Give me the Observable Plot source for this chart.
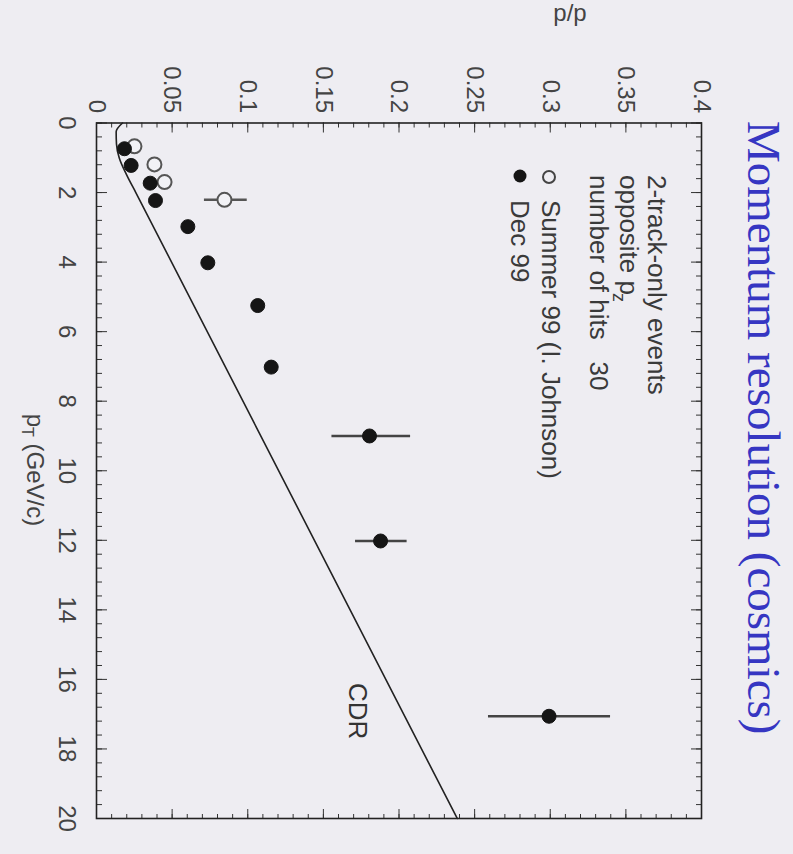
<!DOCTYPE html>
<html><head><meta charset="utf-8">
<script src="https://cdn.jsdelivr.net/npm/d3@7"></script>
<script src="https://cdn.jsdelivr.net/npm/@observablehq/plot@0.6"></script>
<style>
html,body{margin:0;padding:0;background:#eeedf2;overflow:hidden;width:793px;height:854px;}
#rot{position:absolute;left:0;top:0;width:854px;height:793px;transform-origin:0 0;transform:translate(793px,0) rotate(90deg);}
#rot svg{display:block;overflow:visible;}
</style></head><body><div id="rot"></div>
<script>
// ---- data ----
const dec99Pt    = [0.74, 1.22, 1.73, 2.23, 2.98, 4.02, 5.25, 7.02, 9.00, 12.02, 17.06];
const dec99Sigma = [0.0185, 0.0229, 0.0355, 0.0390, 0.0604, 0.0736, 0.1066, 0.1155, 0.1805, 0.1878, 0.2992];
const dec99Lo    = [null, null, null, null, null, null, null, null, 0.155, 0.1706, 0.2585];
const dec99Hi    = [null, null, null, null, null, null, null, null, 0.207, 0.2047, 0.3392];

const summerPt    = [0.67, 1.19, 1.70, 2.21];
const summerSigma = [0.0251, 0.0383, 0.0450, 0.0846];
const summerLo    = [null, null, null, 0.0707];
const summerHi    = [null, null, null, 0.0990];

const cdrPt    = [0, 0.25, 0.6, 1.0, 1.5, 2.0, 20];
const cdrSigma = [0.0172, 0.0130, 0.0132, 0.0150, 0.0200, 0.0260, 0.2385];

const xTicks = [0, 2, 4, 6, 8, 10, 12, 14, 16, 18, 20];
const xTickLabels = ["0","2","4","6","8","10","12","14","16","18","20"];
const yTicks = [0, 0.05, 0.1, 0.15, 0.2, 0.25, 0.3, 0.35, 0.4];
const yTickLabels = ["0","0.05","0.1","0.15","0.2","0.25","0.3","0.35","0.4"];

const titleText = "Momentum resolution (cosmics)";
const yTitle = "p/p";
const legendHeader = ["2-track-only events", "opposite p", "number of hits\u00a0\u00a0 30"];
const legendSeries = ["Summer 99 (I. Johnson)", "Dec 99"];
const cdrLabel = "CDR";

// ---- build ----
const dec99 = dec99Pt.map((p, i) => ({pt: p, s: dec99Sigma[i], lo: dec99Lo[i], hi: dec99Hi[i]}));
const summer = summerPt.map((p, i) => ({pt: p, s: summerSigma[i], lo: summerLo[i], hi: summerHi[i]}));
const cdr = cdrPt.map((p, i) => ({pt: p, s: cdrSigma[i]}));
const xMinor = d3.range(0, 20.001, 0.4);
const yMinor = d3.range(0, 0.4001, 0.01);

const W = 854, H = 793;
const tickCol = "#333";
const FONT = "'Liberation Sans', Arial, Helvetica, sans-serif";
const blank = () => "";

const plot = Plot.plot({
  width: W, height: H,
  marginLeft: 122.5, marginRight: 36, marginTop: 91, marginBottom: 97,
  x: {domain: [0, 20]},
  y: {domain: [0, 0.4]},
  style: {background: "transparent", fontFamily: FONT, overflow: "visible"},
  marks: [
    // inward ticks on all four sides
    Plot.axisX(xMinor, {anchor: "bottom", tickSize: -5, tickFormat: blank, label: null, stroke: tickCol}),
    Plot.axisX(xTicks, {anchor: "bottom", tickSize: -10, tickFormat: blank, label: null, stroke: tickCol}),
    Plot.axisX(xMinor, {anchor: "top", tickSize: -5, tickFormat: blank, label: null, stroke: tickCol}),
    Plot.axisX(xTicks, {anchor: "top", tickSize: -10, tickFormat: blank, label: null, stroke: tickCol}),
    Plot.axisY(yMinor, {anchor: "left", tickSize: -5, tickFormat: blank, label: null, stroke: tickCol}),
    Plot.axisY(yTicks, {anchor: "left", tickSize: -10, tickFormat: blank, label: null, stroke: tickCol}),
    Plot.axisY(yMinor, {anchor: "right", tickSize: -5, tickFormat: blank, label: null, stroke: tickCol}),
    Plot.axisY(yTicks, {anchor: "right", tickSize: -10, tickFormat: blank, label: null, stroke: tickCol}),
    // tick labels
    Plot.axisX(xTicks, {anchor: "bottom", tickSize: 0, tickPadding: 20, label: null, fontSize: 24, fill: "#444",
      tickFormat: d => xTickLabels[xTicks.indexOf(d)]}),
    Plot.axisY(yTicks, {anchor: "left", tickSize: 0, tickPadding: 10, label: null, fontSize: 24, fill: "#444",
      tickFormat: d => yTickLabels[yTicks.indexOf(d)]}),
    Plot.frame({stroke: "#222", strokeWidth: 1.6}),
    // CDR curve
    Plot.line(cdr, {x: "pt", y: "s", stroke: "#222", strokeWidth: 1.6, curve: "monotone-x"}),
    Plot.text([cdrLabel], {x: () => 16.1, y: () => 0.167, text: d => d, textAnchor: "start", lineAnchor: "bottom", fontSize: 26, fill: "#333"}),
    // error bars
    Plot.ruleX(summer.filter(d => d.lo != null), {x: "pt", y1: "lo", y2: "hi", stroke: "#555", strokeWidth: 2.5}),
    Plot.ruleX(dec99.filter(d => d.lo != null), {x: "pt", y1: "lo", y2: "hi", stroke: "#444", strokeWidth: 2.5}),
    // points
    Plot.dot(summer, {x: "pt", y: "s", r: 7, stroke: "#555", strokeWidth: 2, fill: "#f2f2f6"}),
    Plot.dot(dec99, {x: "pt", y: "s", r: 7, fill: "#151515", stroke: "#151515", strokeWidth: 1})
  ]
});
document.getElementById("rot").appendChild(plot);

// ---- annotations (titles, legend) ----
const svg = d3.select(plot);
svg.append("text")
  .attr("x", 121).attr("y", 45).attr("text-anchor", "start")
  .attr("font-family", "'Liberation Serif', 'Times New Roman', serif")
  .attr("font-size", 47).attr("fill", "#3636c2")
  .text(titleText);

const g = svg.append("g").attr("font-family", FONT).attr("fill", "#3a3a3a").attr("text-anchor", "start");
g.append("text").attr("transform", "translate(21,223) rotate(-90)")
  .attr("text-anchor", "middle").attr("font-size", 24).attr("fill", "#444").text(yTitle);

const xt = g.append("text").attr("x", 470).attr("y", 766).attr("text-anchor", "middle")
  .attr("font-size", 24).attr("fill", "#444");
xt.append("tspan").text("p");
xt.append("tspan").attr("font-size", 16).attr("dy", 5).text("T");
xt.append("tspan").attr("dy", -5).text(" (GeV/c)");

const lg = g.append("g").attr("font-size", 26).attr("text-anchor", "start");
lg.append("text").attr("x", 175).attr("y", 145).text(legendHeader[0]);
const l2 = lg.append("text").attr("x", 175).attr("y", 173);
l2.append("tspan").text(legendHeader[1]);
l2.append("tspan").attr("font-size", 18).attr("dy", 7).attr("dx", -2).text("z");
lg.append("text").attr("x", 175).attr("y", 203).text(legendHeader[2]);
lg.append("circle").attr("cx", 177).attr("cy", 244).attr("r", 6).attr("fill", "none").attr("stroke", "#444").attr("stroke-width", 2);
lg.append("text").attr("x", 200).attr("y", 251).text(legendSeries[0]);
lg.append("circle").attr("cx", 176).attr("cy", 273).attr("r", 6.5).attr("fill", "#151515");
lg.append("text").attr("x", 200).attr("y", 282).text(legendSeries[1]);
</script>
</body></html>
